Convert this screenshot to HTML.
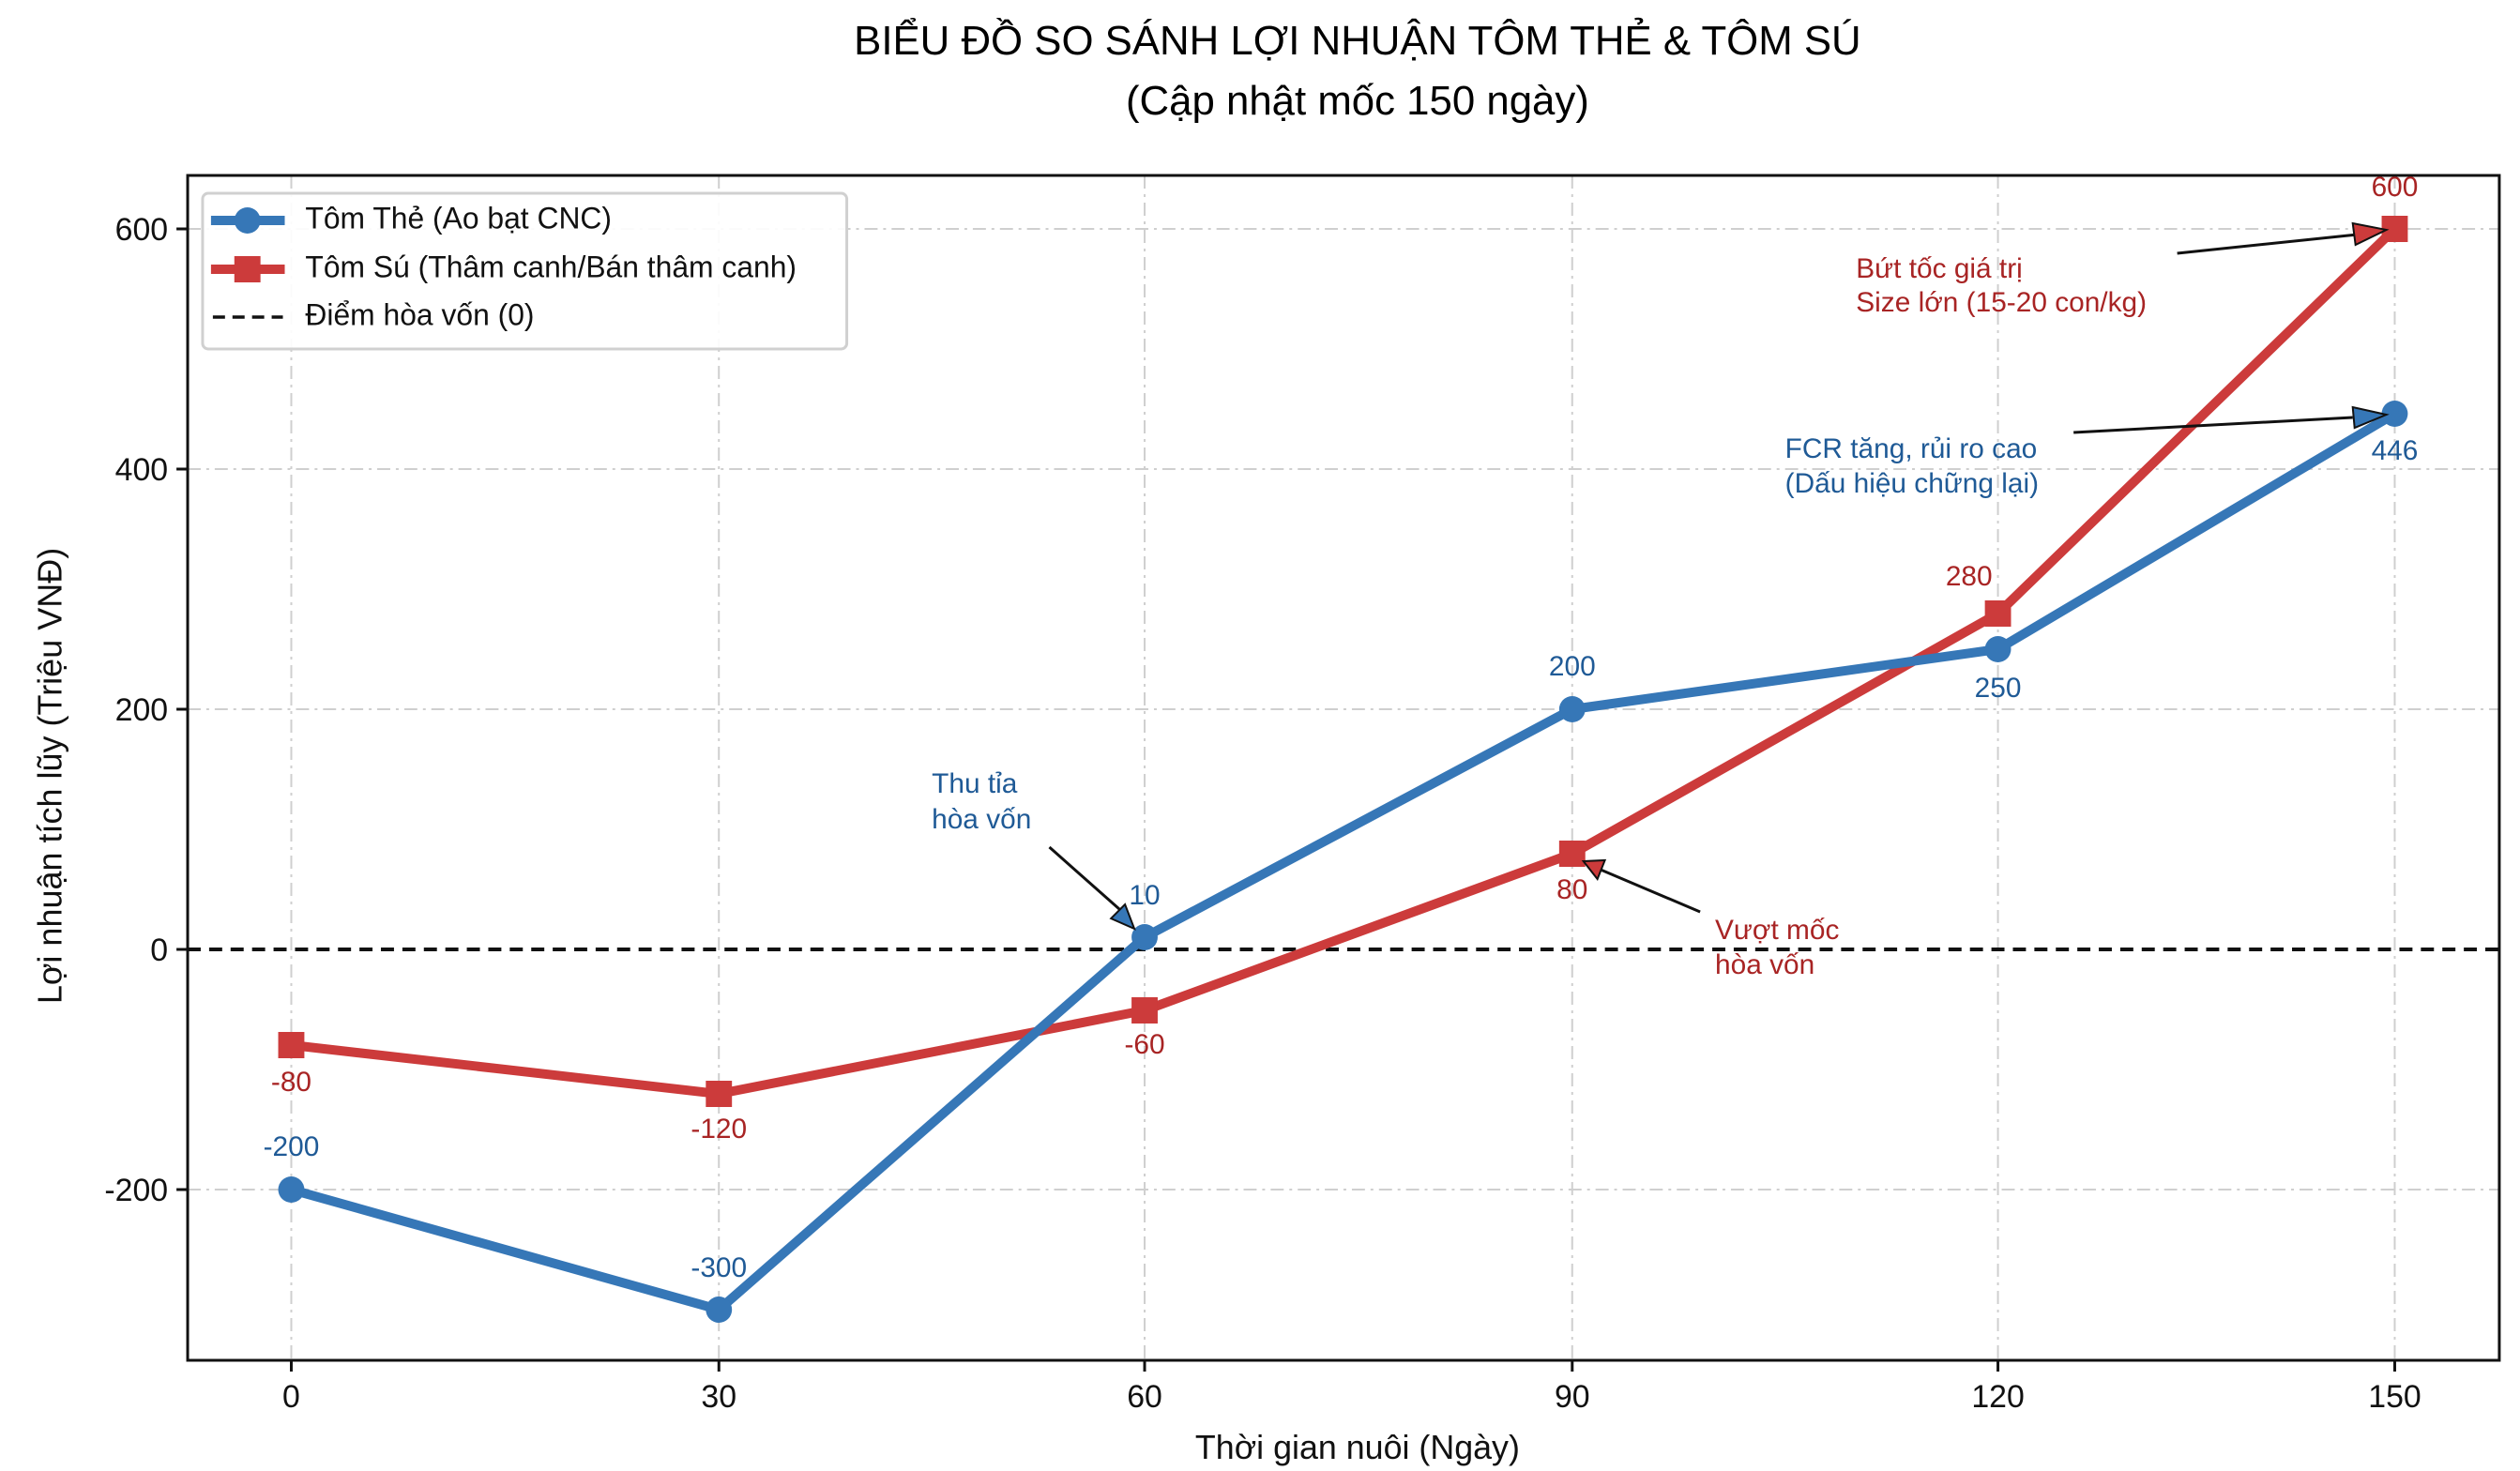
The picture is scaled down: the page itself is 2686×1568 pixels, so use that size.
<!DOCTYPE html>
<html><head><meta charset="utf-8"><style>
html,body{margin:0;padding:0;background:#fff;}
svg{display:block;font-family:"Liberation Sans","DejaVu Sans",sans-serif;}
</style></head><body>
<svg width="2686" height="1568" viewBox="0 0 2686 1568" xmlns="http://www.w3.org/2000/svg">
<rect width="2686" height="1568" fill="#fff"/>
<g transform="scale(0.99512,1)">
<text x="1454" y="58" font-size="44" text-anchor="middle">BIỂU ĐỒ SO SÁNH LỢI NHUẬN TÔM THẺ &amp; TÔM SÚ</text>
<text x="1454" y="122" font-size="44" text-anchor="middle">(Cập nhật mốc 150 ngày)</text>
<g stroke="#cfcfcf" stroke-width="2" stroke-dasharray="14,6,3,6">
<line x1="312" y1="187" x2="312" y2="1450"/><line x1="770" y1="187" x2="770" y2="1450"/>
<line x1="1226" y1="187" x2="1226" y2="1450"/><line x1="1684" y1="187" x2="1684" y2="1450"/>
<line x1="2140" y1="187" x2="2140" y2="1450"/><line x1="2565" y1="187" x2="2565" y2="1450"/>
<line x1="201" y1="244" x2="2677" y2="244"/><line x1="201" y1="500" x2="2677" y2="500"/>
<line x1="201" y1="756" x2="2677" y2="756"/><line x1="201" y1="1268" x2="2677" y2="1268"/>
</g>
<line x1="201" y1="1012" x2="2677" y2="1012" stroke="#111" stroke-width="4" stroke-dasharray="14,9"/>
<rect x="201" y="187" width="2476" height="1263" fill="none" stroke="#111" stroke-width="3"/>
<g stroke="#111" stroke-width="3">
<line x1="312" y1="1450" x2="312" y2="1462"/><line x1="770" y1="1450" x2="770" y2="1462"/>
<line x1="1226" y1="1450" x2="1226" y2="1462"/><line x1="1684" y1="1450" x2="1684" y2="1462"/>
<line x1="2140" y1="1450" x2="2140" y2="1462"/><line x1="2565" y1="1450" x2="2565" y2="1462"/>
<line x1="189" y1="244" x2="201" y2="244"/><line x1="189" y1="500" x2="201" y2="500"/>
<line x1="189" y1="756" x2="201" y2="756"/><line x1="189" y1="1012" x2="201" y2="1012"/>
<line x1="189" y1="1268" x2="201" y2="1268"/>
</g>
<g font-size="34" text-anchor="middle" fill="#111">
<text x="312" y="1500">0</text><text x="770" y="1500">30</text><text x="1226" y="1500">60</text>
<text x="1684" y="1500">90</text><text x="2140" y="1500">120</text><text x="2565" y="1500">150</text>
</g>
<g font-size="34" text-anchor="end" fill="#111">
<text x="180" y="256">600</text><text x="180" y="512">400</text><text x="180" y="768">200</text>
<text x="180" y="1024">0</text><text x="180" y="1280">-200</text>
</g>
<text x="1454" y="1555" font-size="36" text-anchor="middle" fill="#111">Thời gian nuôi (Ngày)</text>
<text transform="translate(66,827) rotate(-90)" font-size="36" text-anchor="middle" fill="#111">Lợi nhuận tích lũy (Triệu VNĐ)</text>
<polyline points="312,1114 770,1166 1226,1077 1684,910 2140,654 2565,244" fill="none" stroke="#cc3b3b" stroke-width="10" stroke-linejoin="round"/>
<polyline points="312,1268 770,1396 1226,999 1684,756 2140,692 2565,441" fill="none" stroke="#3677b7" stroke-width="10" stroke-linejoin="round"/>
<g fill="#cc3b3b">
<rect x="298" y="1100" width="28" height="28"/><rect x="756" y="1152" width="28" height="28"/>
<rect x="1212" y="1063" width="28" height="28"/><rect x="1670" y="896" width="28" height="28"/>
<rect x="2126" y="640" width="28" height="28"/><rect x="2551" y="230" width="28" height="28"/>
</g>
<g fill="#3677b7">
<circle cx="312" cy="1268" r="14"/><circle cx="770" cy="1396" r="14"/><circle cx="1226" cy="999" r="14"/>
<circle cx="1684" cy="756" r="14"/><circle cx="2140" cy="692" r="14"/><circle cx="2565" cy="441" r="14"/>
</g>
<g font-size="30" text-anchor="middle" fill="#1f5a96" dominant-baseline="middle">
<text x="312" y="1224">-200</text><text x="770" y="1353">-300</text><text x="1226" y="956">10</text>
<text x="1684" y="712">200</text><text x="2140" y="735">250</text><text x="2565" y="482">446</text>
</g>
<g font-size="30" text-anchor="middle" fill="#a82424" dominant-baseline="middle">
<text x="312" y="1155">-80</text><text x="770" y="1205">-120</text><text x="1226" y="1115">-60</text>
<text x="1684" y="950">80</text><text x="2109" y="616">280</text><text x="2565" y="201">600</text>
</g>
<g font-size="30" dominant-baseline="middle">
<text x="998" y="837" fill="#1f5a96">Thu tỉa</text><text x="998" y="875" fill="#1f5a96">hòa vốn</text>
<text x="1837" y="993" fill="#a82424">Vượt mốc</text><text x="1837" y="1030" fill="#a82424">hòa vốn</text>
<text x="1912" y="480" fill="#1f5a96">FCR tăng, rủi ro cao</text><text x="1912" y="517" fill="#1f5a96">(Dấu hiệu chững lại)</text>
<text x="1988" y="288" fill="#a82424">Bứt tốc giá trị</text><text x="1988" y="324" fill="#a82424">Size lớn (15-20 con/kg)</text>
</g>
<g stroke="#111" stroke-width="3">
<line x1="1124" y1="903" x2="1200" y2="970"/>
<line x1="1821" y1="972" x2="1712" y2="926"/>
<line x1="2221" y1="461" x2="2520" y2="445"/>
<line x1="2332" y1="270" x2="2525" y2="250"/>
</g>
<polygon points="1215,990 1190,979 1205,964" fill="#3677b7" stroke="#111" stroke-width="2"/>
<polygon points="1696,918 1719,917 1711,937" fill="#cc3b3b" stroke="#111" stroke-width="2"/>
<polygon points="2556,442 2520,434 2522,456" fill="#3677b7" stroke="#111" stroke-width="2"/>
<polygon points="2556,245 2520,238 2523,261" fill="#cc3b3b" stroke="#111" stroke-width="2"/>
<rect x="217" y="206" width="690" height="166" rx="6" fill="#fff" fill-opacity="0.9" stroke="#d0d0d0" stroke-width="3"/>
<line x1="226" y1="235" x2="305" y2="235" stroke="#3677b7" stroke-width="10"/>
<circle cx="265" cy="235" r="14" fill="#3677b7"/>
<line x1="226" y1="287" x2="305" y2="287" stroke="#cc3b3b" stroke-width="10"/>
<rect x="251" y="273" width="28" height="28" fill="#cc3b3b"/>
<line x1="228" y1="338" x2="303" y2="338" stroke="#111" stroke-width="3.5" stroke-dasharray="13,8"/>
<g font-size="32" fill="#111" dominant-baseline="middle">
<text x="327" y="235">Tôm Thẻ (Ao bạt CNC)</text>
<text x="327" y="287">Tôm Sú (Thâm canh/Bán thâm canh)</text>
<text x="327" y="338">Điểm hòa vốn (0)</text>
</g>
</g>
</svg>
</body></html>
